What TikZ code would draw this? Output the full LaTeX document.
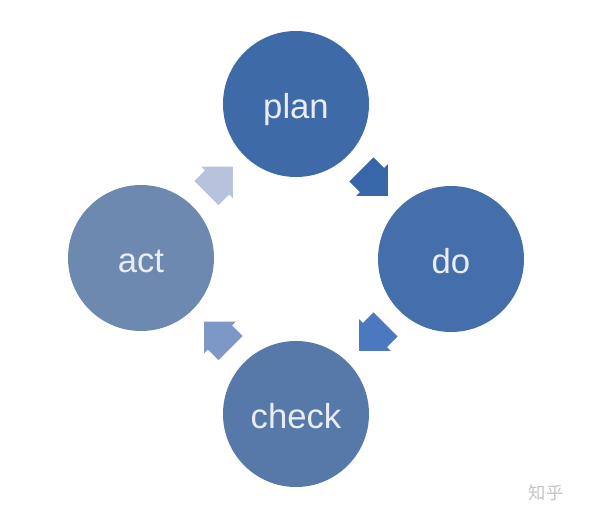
\documentclass[tikz,border=0pt]{standalone}
\usepackage{fontspec}
\setmainfont{Liberation Sans}
\newfontfamily\cjkfont{Noto Sans CJK SC}
\usetikzlibrary{calc}
\definecolor{cplan}{HTML}{3E6AA7}
\definecolor{cdo}{HTML}{446FAA}
\definecolor{ccheck}{HTML}{5779A9}
\definecolor{cact}{HTML}{6D89B0}
\definecolor{aone}{HTML}{3766A9}
\definecolor{atwo}{HTML}{4B79BF}
\definecolor{athree}{HTML}{7D97C6}
\definecolor{afour}{HTML}{B7C3DC}
\definecolor{txtc}{HTML}{E8EDF5}
\definecolor{wmc}{HTML}{C4C4C4}
\newcommand\blockarrow[3]{%
  \begin{scope}[shift={#1}, rotate=#2]
    \fill[#3] (-17,-17) -- (-2,-17) -- (-2,-22.5) -- (20.5,0) -- (-2,22.5) -- (-2,17) -- (-17,17) -- cycle;
  \end{scope}}
\begin{document}
\begin{tikzpicture}[x=0.75pt,y=-0.75pt]
\tikzset{
  circ/.style={circle, minimum size=109.5pt, inner sep=0pt, text=txtc,
    font=\fontsize{26pt}{28pt}\selectfont, text height=21pt, text depth=0pt}
}
\fill[white] (0,0) rectangle (600,517);
\node[circ, fill=cplan]  (plan)  at (296,104) {plan};
\node[circ, fill=cdo]    (do)    at (451,259) {do};
\node[circ, fill=ccheck] (check) at (296,414) {check};
\node[circ, fill=cact]   (act)   at (141,258) {act};
\blockarrow{($(plan)!0.5!(do)$)}{-45}{aone}
\blockarrow{($(do)!0.5!(check)$)}{-135}{atwo}
\blockarrow{($(check)!0.5!(act)$)}{135}{athree}
\blockarrow{($(act)!0.5!(plan)$)}{45}{afour}
\node[font=\cjkfont\fontsize{13pt}{13pt}\selectfont, text=wmc, inner sep=0pt] (wm) at (546,493) {知乎};
\end{tikzpicture}
\end{document}
